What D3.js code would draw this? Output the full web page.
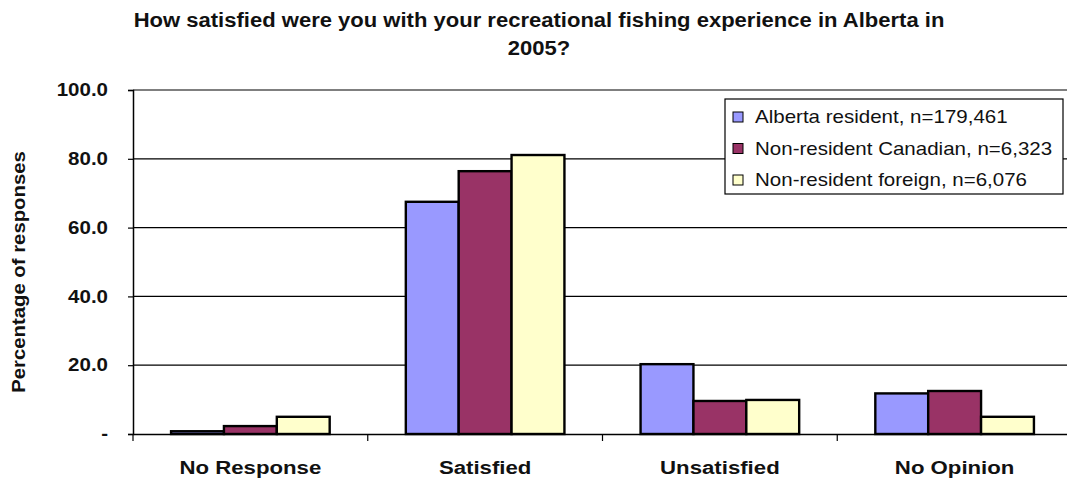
<!DOCTYPE html>
<html>
<head>
<meta charset="utf-8">
<script src="https://cdn.jsdelivr.net/npm/d3@7"></script>
<style>
  body { margin: 0; background: #fff; }
  text { font-family: Arial, "Liberation Sans", sans-serif; fill: #111; }
</style>
</head>
<body>
<div id="chart"></div>
<script>
var width = 1067;
var height = 481;

// data
var categories = ["No Response", "Satisfied", "Unsatisfied", "No Opinion"];
var seriesNames = ["Alberta resident, n=179,461", "Non-resident Canadian, n=6,323", "Non-resident foreign, n=6,076"];
var alberta = [0.8, 67.5, 20.3, 11.8];
var canadian = [2.3, 76.4, 9.6, 12.5];
var foreign = [5.0, 81.1, 9.9, 5.0];
var yTicks = [0, 20, 40, 60, 80, 100];
var colors = ["#9999ff", "#993366", "#ffffcc"];

var series = [alberta, canadian, foreign];

// plot area (window.top is reserved, so use other names)
var plotLeft = 133, plotRight = 1072, plotTop = 90, plotBottom = 434;
var stretch = 1.14; // the original's text is a bit wide

var svg = d3.select("#chart").append("svg")
    .attr("width", width)
    .attr("height", height);

var xScale = d3.scaleBand()
    .domain(categories)
    .range([plotLeft, plotRight])
    .paddingInner(0)
    .paddingOuter(0);

var yScale = d3.scaleLinear()
    .domain([0, 100])
    .range([plotBottom, plotTop]);

var inner = d3.scaleBand()
    .domain([0, 1, 2])
    .range([0, xScale.bandwidth()])
    .paddingInner(0)
    .paddingOuter(0.72);

// gridlines
svg.append("g")
    .selectAll("line")
    .data(yTicks.slice(1))
    .enter()
    .append("line")
    .attr("x1", plotLeft).attr("x2", plotRight)
    .attr("y1", function(d) { return yScale(d); })
    .attr("y2", function(d) { return yScale(d); })
    .attr("stroke", "#000")
    .attr("stroke-width", 1.2);

// bars
series.forEach(function(vals, s) {
    svg.append("g")
        .selectAll("rect")
        .data(vals)
        .enter()
        .append("rect")
        .attr("x", function(d, i) { return xScale(categories[i]) + inner(s); })
        .attr("y", function(d) { return yScale(d); })
        .attr("width", inner.bandwidth())
        .attr("height", function(d) { return plotBottom - yScale(d); })
        .attr("fill", colors[s])
        .attr("stroke", "#000")
        .attr("stroke-width", 2.4);
});

// y axis
var yAxis = d3.axisLeft(yScale)
    .tickValues(yTicks)
    .tickSize(5)
    .tickPadding(0)
    .tickFormat(function(d) { return d === 0 ? "-" : d3.format(".1f")(d); });

var gy = svg.append("g")
    .attr("transform", "translate(" + plotLeft + ",0)")
    .call(yAxis);
gy.select(".domain").attr("stroke", "#000").attr("stroke-width", 1.5);
gy.selectAll(".tick line").attr("stroke", "#000").attr("stroke-width", 1.2);
gy.selectAll("text")
    .attr("x", -25 / stretch)
    .attr("transform", "scale(" + stretch + ",1)")
    .attr("font-size", "18px")
    .attr("font-weight", "bold");

// x axis
var xAxis = d3.axisBottom(xScale)
    .tickSize(0)
    .tickPadding(0);
var gx = svg.append("g")
    .attr("transform", "translate(0," + plotBottom + ")")
    .call(xAxis);
gx.select(".domain").attr("stroke", "#000").attr("stroke-width", 1.5);
gx.selectAll("text")
    .attr("y", 40)
    .attr("dy", 0)
    .attr("transform", "scale(1.2,1)")
    .attr("font-size", "18.5px")
    .attr("font-weight", "bold");

// category boundary ticks
var bounds = categories.map(function(c) { return xScale(c); });
svg.append("g")
    .selectAll("line")
    .data(bounds)
    .enter()
    .append("line")
    .attr("x1", function(d) { return d; })
    .attr("x2", function(d) { return d; })
    .attr("y1", plotBottom)
    .attr("y2", plotBottom + 7)
    .attr("stroke", "#000")
    .attr("stroke-width", 1.2);

// y label
svg.append("text")
    .attr("transform", "translate(25," + 272 + ") rotate(-90) scale(1.07,1)")
    .attr("text-anchor", "middle")
    .attr("font-size", "19px")
    .attr("font-weight", "bold")
    .text("Percentage of responses");

// title
var title = svg.append("text")
    .attr("text-anchor", "middle")
    .attr("transform", "translate(539,0) scale(1.13,1)")
    .attr("font-size", "19.5px")
    .attr("font-weight", "bold");
title.append("tspan").attr("x", 0).attr("y", 27)
    .text("How satisfied were you with your recreational fishing experience in Alberta in");
title.append("tspan").attr("x", 0).attr("y", 55)
    .text("2005?");

// legend
var legend = svg.append("g").attr("transform", "translate(725,99)");
legend.append("rect")
    .attr("width", 338).attr("height", 95)
    .attr("fill", "#fff")
    .attr("stroke", "#000")
    .attr("stroke-width", 1.2);
var items = legend.selectAll("g.item")
    .data(seriesNames)
    .enter()
    .append("g")
    .attr("class", "item")
    .attr("transform", function(d, i) { return "translate(8," + (18 + i * 31.5) + ")"; });
items.append("rect")
    .attr("x", 0).attr("y", -5)
    .attr("width", 10).attr("height", 10)
    .attr("fill", function(d, i) { return colors[i]; })
    .attr("stroke", "#000")
    .attr("stroke-width", 1);
items.append("text")
    .attr("x", 22 / stretch)
    .attr("y", 0)
    .attr("dy", "0.36em")
    .attr("transform", "scale(" + stretch + ",1)")
    .attr("font-size", "18px")
    .text(function(d) { return d; });
</script>
</body>
</html>
